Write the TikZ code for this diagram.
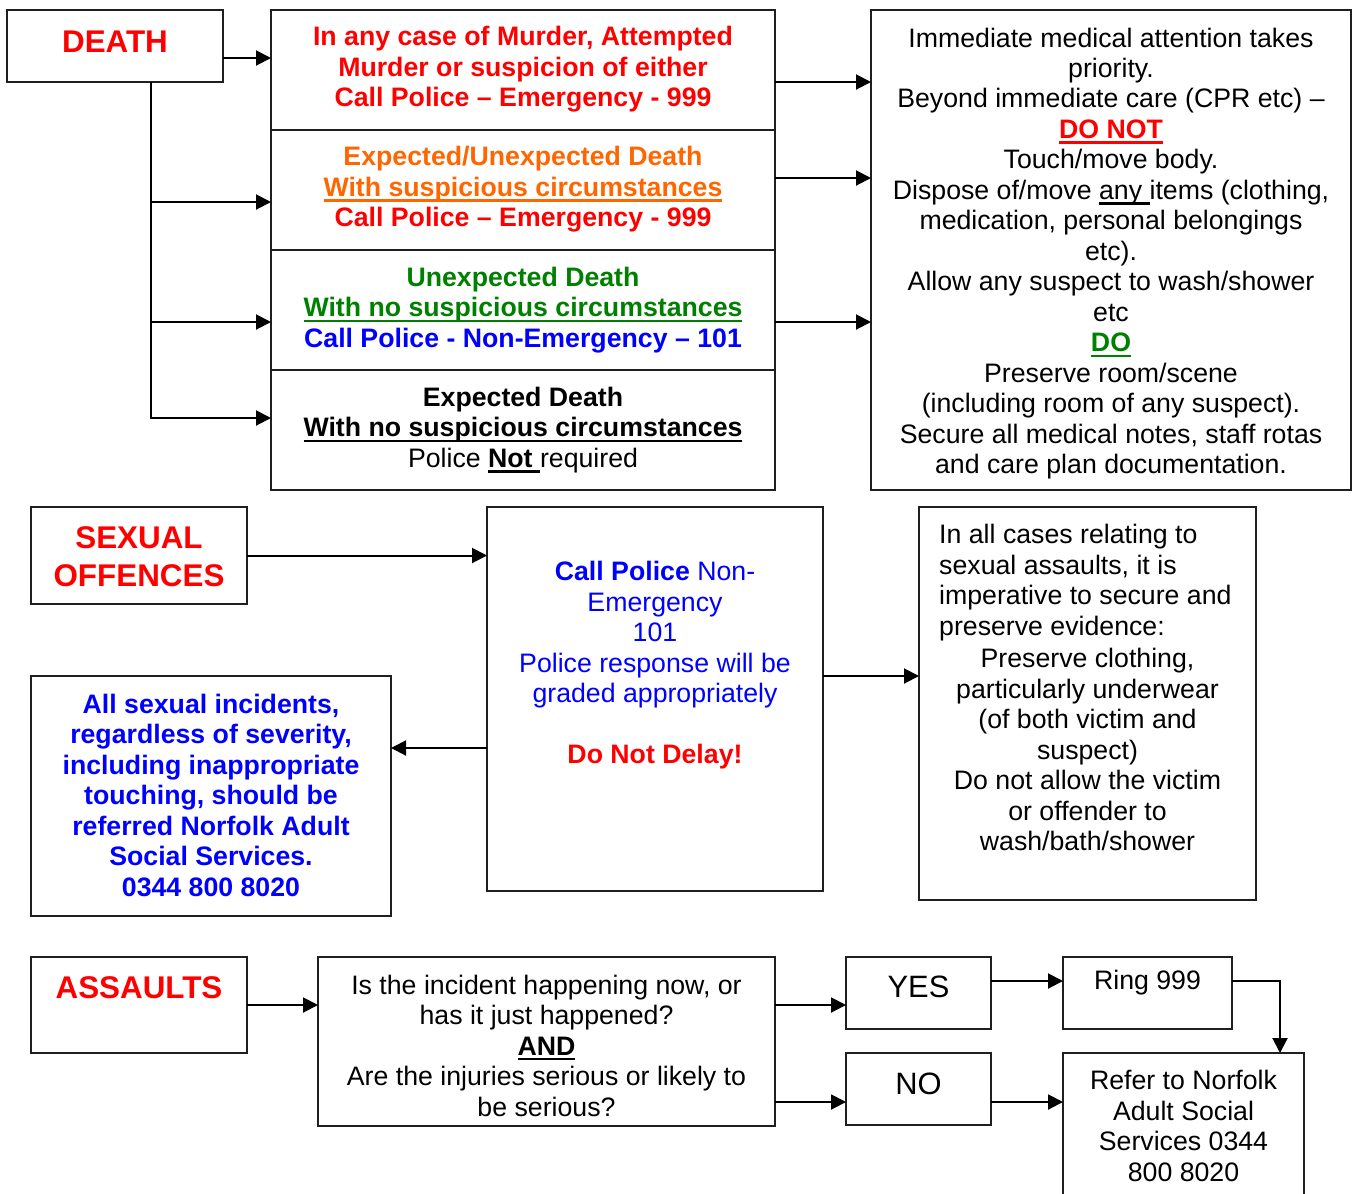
\documentclass[tikz,border=0pt]{standalone}
\usepackage{fontspec}
\setmainfont{Liberation Sans}
\usetikzlibrary{arrows.meta,fit,calc}
\definecolor{dred}{RGB}{255,0,0}
\definecolor{dorange}{RGB}{255,102,0}
\definecolor{dgreen}{RGB}{0,128,0}
\definecolor{dblue}{RGB}{0,0,255}
\newcommand\tx{\fontsize{26.8}{30.6}\selectfont}
\newcommand\hdfont{\fontsize{31.5}{38}\selectfont\bfseries}
\newcommand\yesfont{\fontsize{31}{36}\selectfont}
\newcommand\myul[1]{\setbox0=\hbox{#1}\rlap{\rule[-0.2em]{\wd0}{0.09em}}\box0}
\begin{document}
\begin{tikzpicture}[x=1bp,y=-1bp,
  box/.style={draw=black!88, line width=2bp, inner sep=0pt, outer sep=0pt},
  txt/.style={font=\tx, align=center, inner sep=0pt},
  arr/.style={draw=black, line width=2bp, -{Triangle[length=15bp,width=15bp]}},
  ln/.style={draw=black, line width=2bp}]
\useasboundingbox (0,0) rectangle (1358,1193);
\clip (0,0) rectangle (1358,1193);
\fill[white] (0,0) rectangle (1358,1193);

% ---------------- DEATH ----------------
\node[box, fit={(7,10)(223,82)}] (death) {};
\node[txt, font=\hdfont, text=dred] (deatht) at (115,42) {DEATH};

\node[box, fit={(271,10)(775,130)}] (s1) {};
\node[box, fit={(271,130)(775,250)}] (s2) {};
\node[box, fit={(271,250)(775,370)}] (s3) {};
\node[box, fit={(271,370)(775,490)}] (s4) {};

\node[txt, font=\tx\bfseries, text=dred] (s1t) at (523,69.5)
  {In any case of Murder, Attempted\\Murder or suspicion of either\\Call Police – Emergency - 999};
\node[txt, font=\tx\bfseries] (s2t) at (523,189.5)
  {\textcolor{dorange}{Expected/Unexpected Death}\\\textcolor{dorange}{\myul{With suspicious circumstances}}\\\textcolor{dred}{Call Police – Emergency - 999}};
\node[txt, font=\tx\bfseries] (s3t) at (523,310)
  {\textcolor{dgreen}{Unexpected Death}\\\textcolor{dgreen}{\myul{With no suspicious circumstances}}\\\textcolor{dblue}{Call Police - Non-Emergency – 101}};
\node[txt] (s4t) at (523,430)
  {\textbf{Expected Death}\\\textbf{\myul{With no suspicious circumstances}}\\Police \myul{\textbf{Not }}required};

\node[box, fit={(871,10)(1351,490)}] (r1) {};
\node[txt] (r1t) at (1111,253.5)
  {Immediate medical attention takes\\priority.\\Beyond immediate care (CPR etc) –\\
   \textcolor{dred}{\textbf{\myul{DO NOT}}}\\Touch/move body.\\
   Dispose of/move \myul{any }items (clothing,\\medication, personal belongings\\etc).\\
   Allow any suspect to wash/shower\\etc\\\textcolor{dgreen}{\textbf{\myul{DO}}}\\
   Preserve room/scene\\(including room of any suspect).\\
   Secure all medical notes, staff rotas\\and care plan documentation.};

\coordinate (tr) at ([xshift=36bp]death.south);
\coordinate (b2) at ([yshift=-12bp]s2.west);
\coordinate (b3) at ([yshift=-12bp]s3.west);
\coordinate (b4) at ([yshift=12bp]s4.west);
\draw[arr] ([yshift=-12bp]death.east) coordinate (d0) -- (d0 -| s1.west);
\draw[arr] (tr) |- (b4);
\draw[arr] (tr |- b2) -- (b2);
\draw[arr] (tr |- b3) -- (b3);

\draw[arr] ([yshift=-12bp]s1.east) coordinate (e1) -- (e1 -| r1.west);
\draw[arr] ([yshift=12bp]s2.east) coordinate (e2) -- (e2 -| r1.west);
\draw[arr] ([yshift=-12bp]s3.east) coordinate (e3) -- (e3 -| r1.west);

% ---------------- SEXUAL OFFENCES ----------------
\node[box, fit={(31,507)(247,604)}] (so) {};
\node[txt, font=\hdfont, text=dred] (sot) at (139,557) {SEXUAL\\OFFENCES};

\node[box, fit={(487,507)(823,891)}] (m) {};
\node[txt, text=dblue] (mt) at (655,665.5)
  {\textbf{Call Police} Non-\\Emergency\\101\\Police response will be\\graded appropriately\\[30.6bp]
   \textcolor{dred}{\textbf{Do Not Delay!}}};

\node[box, fit={(31,676)(391,916)}] (bl) {};
\node[txt, font=\tx\bfseries, text=dblue] (blt) at (211,795)
  {All sexual incidents,\\regardless of severity,\\including inappropriate\\touching, should be\\referred Norfolk Adult\\Social Services.\\0344 800 8020};

\node[box, fit={(919,507)(1256,900)}] (ev) {};
\node[txt, align=left, anchor=west] (evt1) at (939,582.5)
  {In all cases relating to\\sexual assaults, it is\\imperative to secure and\\preserve evidence:};
\node[txt] (evt2) at (1087.5,749.5)
  {Preserve clothing,\\particularly underwear\\(of both victim and\\suspect)\\Do not allow the victim\\or offender to\\wash/bath/shower};

\draw[arr] (so.east) -- (so.east -| m.west);
\coordinate (c1) at ([yshift=48bp]bl.east);
\draw[arr] (c1 -| m.west) -- (c1);
\coordinate (c2) at ([yshift=23bp]m.east);
\draw[arr] (c2) -- (c2 -| ev.west);

% ---------------- ASSAULTS ----------------
\node[box, fit={(31,957)(247,1053)}] (as) {};
\node[txt, font=\hdfont, text=dred] (ast) at (139,988) {ASSAULTS};

\node[box, fit={(318,957)(775,1126)}] (q) {};
\node[txt] (qt) at (546.5,1045.5)
  {Is the incident happening now, or\\has it just happened?\\\textbf{\myul{AND}}\\Are the injuries serious or likely to\\be serious?};

\node[box, fit={(846,957)(991,1029)}] (yes) {};
\node[txt, font=\yesfont] (yest) at (918.5,987) {YES};
\node[box, fit={(846,1053)(991,1125)}] (no) {};
\node[txt, font=\yesfont] (not) at (918.5,1084) {NO};

\node[box, fit={(1063,957)(1232,1029)}] (ring) {};
\node[txt] (ringt) at (1147.5,983) {Ring 999};
\node[box, fit={(1063,1053)(1304,1230)}] (refer) {};
\node[txt] (refert) at (1183.5,1126)
  {Refer to Norfolk\\Adult Social\\Services 0344\\800 8020};

\draw[arr] (as.east) -- (as.east -| q.west);
\coordinate (c3) at ([yshift=-12bp]yes.west);
\draw[arr] (c3 -| q.east) -- (c3);
\coordinate (c5) at ([yshift=-13bp]no.west);
\draw[arr] (c5 -| q.east) -- (c5);
\draw[arr] ([yshift=12bp]yes.east) coordinate (y0) -- (y0 -| ring.west);
\coordinate (c4) at ([xshift=96.5bp]refer.north);
\draw[arr] ([yshift=12bp]ring.east) -| (c4);
\draw[arr] ([yshift=-13bp]no.east) coordinate (n0) -- (n0 -| refer.west);
\end{tikzpicture}
\end{document}
